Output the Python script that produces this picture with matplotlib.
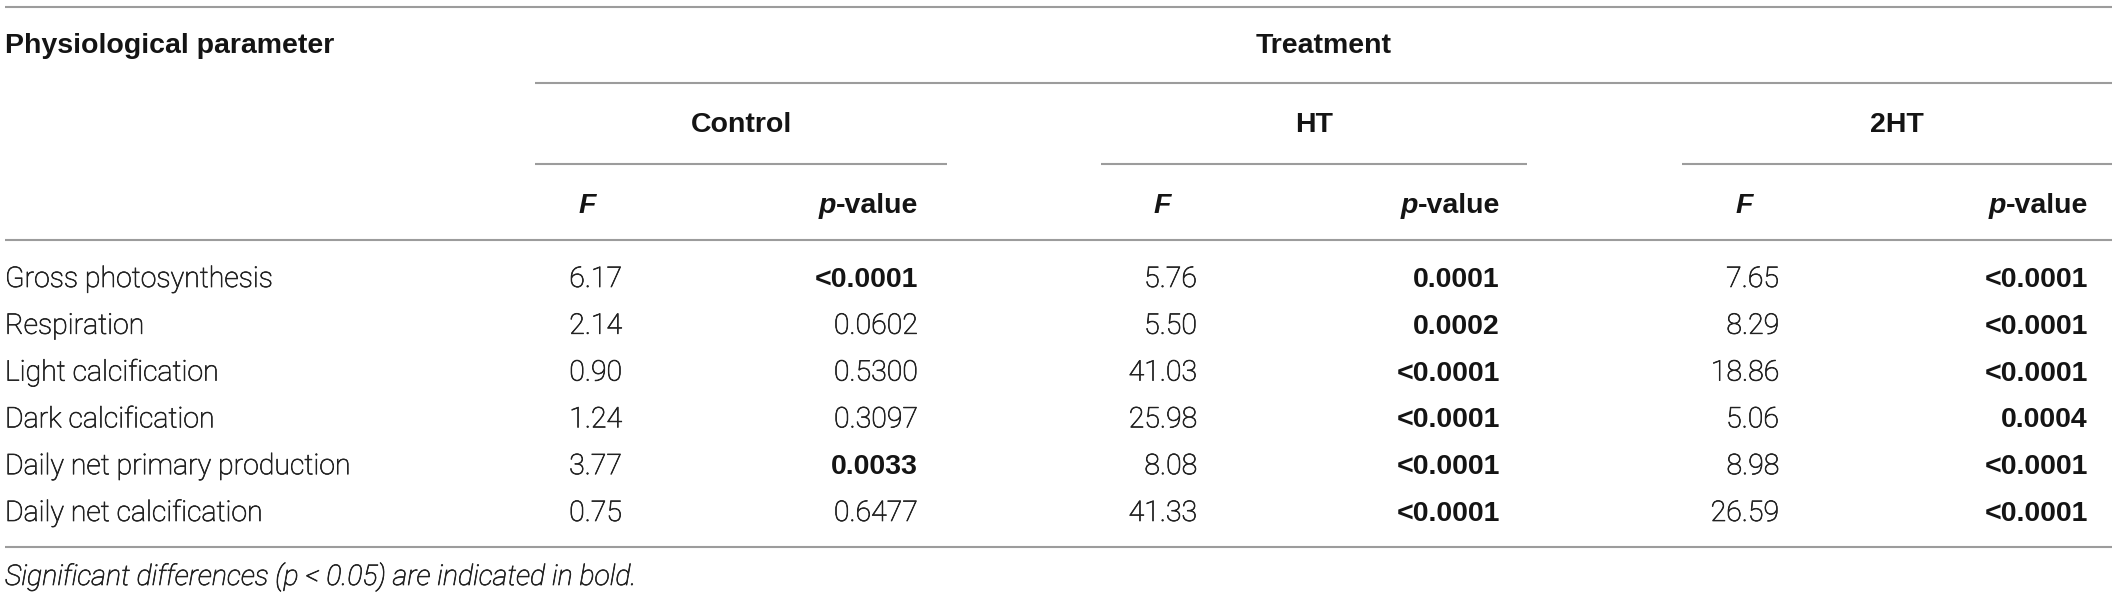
import matplotlib
matplotlib.use("Agg")
from matplotlib import pyplot as plt
from matplotlib import patheffects

# table content
params = ["Gross photosynthesis", "Respiration", "Light calcification",
          "Dark calcification", "Daily net primary production", "Daily net calcification"]
groups = ["Control", "HT", "2HT"]
control_F = [6.17, 2.14, 0.90, 1.24, 3.77, 0.75]
control_p = ["<0.0001", "0.0602", "0.5300", "0.3097", "0.0033", "0.6477"]
ht_F = [5.76, 5.50, 41.03, 25.98, 8.08, 41.33]
ht_p = ["0.0001", "0.0002", "<0.0001", "<0.0001", "<0.0001", "<0.0001"]
ht2_F = [7.65, 8.29, 18.86, 5.06, 8.98, 26.59]
ht2_p = ["<0.0001", "<0.0001", "<0.0001", "0.0004", "<0.0001", "<0.0001"]
footnote = "Significant differences (p < 0.05) are indicated in bold."

W, H = 2117, 596
fig = plt.figure(figsize=(W / 100, H / 100), dpi=100)
ax = fig.add_axes([0, 0, 1, 1])
ax.set_xlim(0, W)
ax.set_ylim(H, 0)
ax.axis("off")

line_col = "#9c9c9c"
txt_col = "#222222"
head_col = "#141414"
fs = 20.5
# light face, thickened a little with a thin stroke to get near Helvetica Light
thick = [patheffects.withStroke(linewidth=0.5, foreground=txt_col)]
body = dict(family="Roboto", weight="light", fontsize=fs, color=txt_col, path_effects=thick)
bold = dict(family="Liberation Sans", weight="bold", fontsize=fs, color=head_col)

# layout (pixels)
base = 10  # baseline offset from cap centre
spans = [(535, 947), (1101, 1527), (1682, 2112)]
f_right = [622, 1197, 1779]
f_center = [587, 1162, 1744]
p_right = [918, 1500, 2088]
row_y = [277 + 46.8 * i for i in range(len(params))]


def hline(y, x0=5, x1=2112):
    ax.plot([x0, x1], [y, y], color=line_col, lw=1.5, solid_capstyle="butt")


hline(7)
hline(83, 535)
for x0, x1 in spans:
    hline(164, x0, x1)
hline(240)
hline(547)

ax.text(5, 43 + base, "Physiological parameter", ha="left", va="baseline", **bold)
ax.text((535 + 2112) / 2, 43 + base, "Treatment", ha="center", va="baseline", **bold)

fig.canvas.draw()
renderer = fig.canvas.get_renderer()
inv = ax.transData.inverted()

for g, (x0, x1), fc, pr in zip(groups, spans, f_center, p_right):
    ax.text((x0 + x1) / 2, 122 + base, g, ha="center", va="baseline", **bold)
    ax.text(fc, 203 + base, "F", ha="center", va="baseline", style="italic", **bold)
    t = ax.text(pr, 203 + base, "-value", ha="right", va="baseline", **bold)
    bb = t.get_window_extent(renderer)
    left = inv.transform((bb.x0, bb.y0))[0]
    ax.text(left, 203 + base, "p", ha="right", va="baseline", style="italic", **bold)

for y, name in zip(row_y, params):
    ax.text(5, y + base, name, ha="left", va="baseline", **body)

for Fs, ps, fr, pr in zip([control_F, ht_F, ht2_F], [control_p, ht_p, ht2_p], f_right, p_right):
    for y, fv, pv in zip(row_y, Fs, ps):
        ax.text(fr, y + base, f"{fv:.2f}", ha="right", va="baseline", **body)
        sig = float(pv.lstrip("<")) < 0.05
        style = bold if sig else body
        ax.text(pr, y + base, pv, ha="right", va="baseline", **style)

ax.text(5, 575 + base, footnote, ha="left", va="baseline", style="italic", **body)

fig.savefig("out.png", dpi=100)
